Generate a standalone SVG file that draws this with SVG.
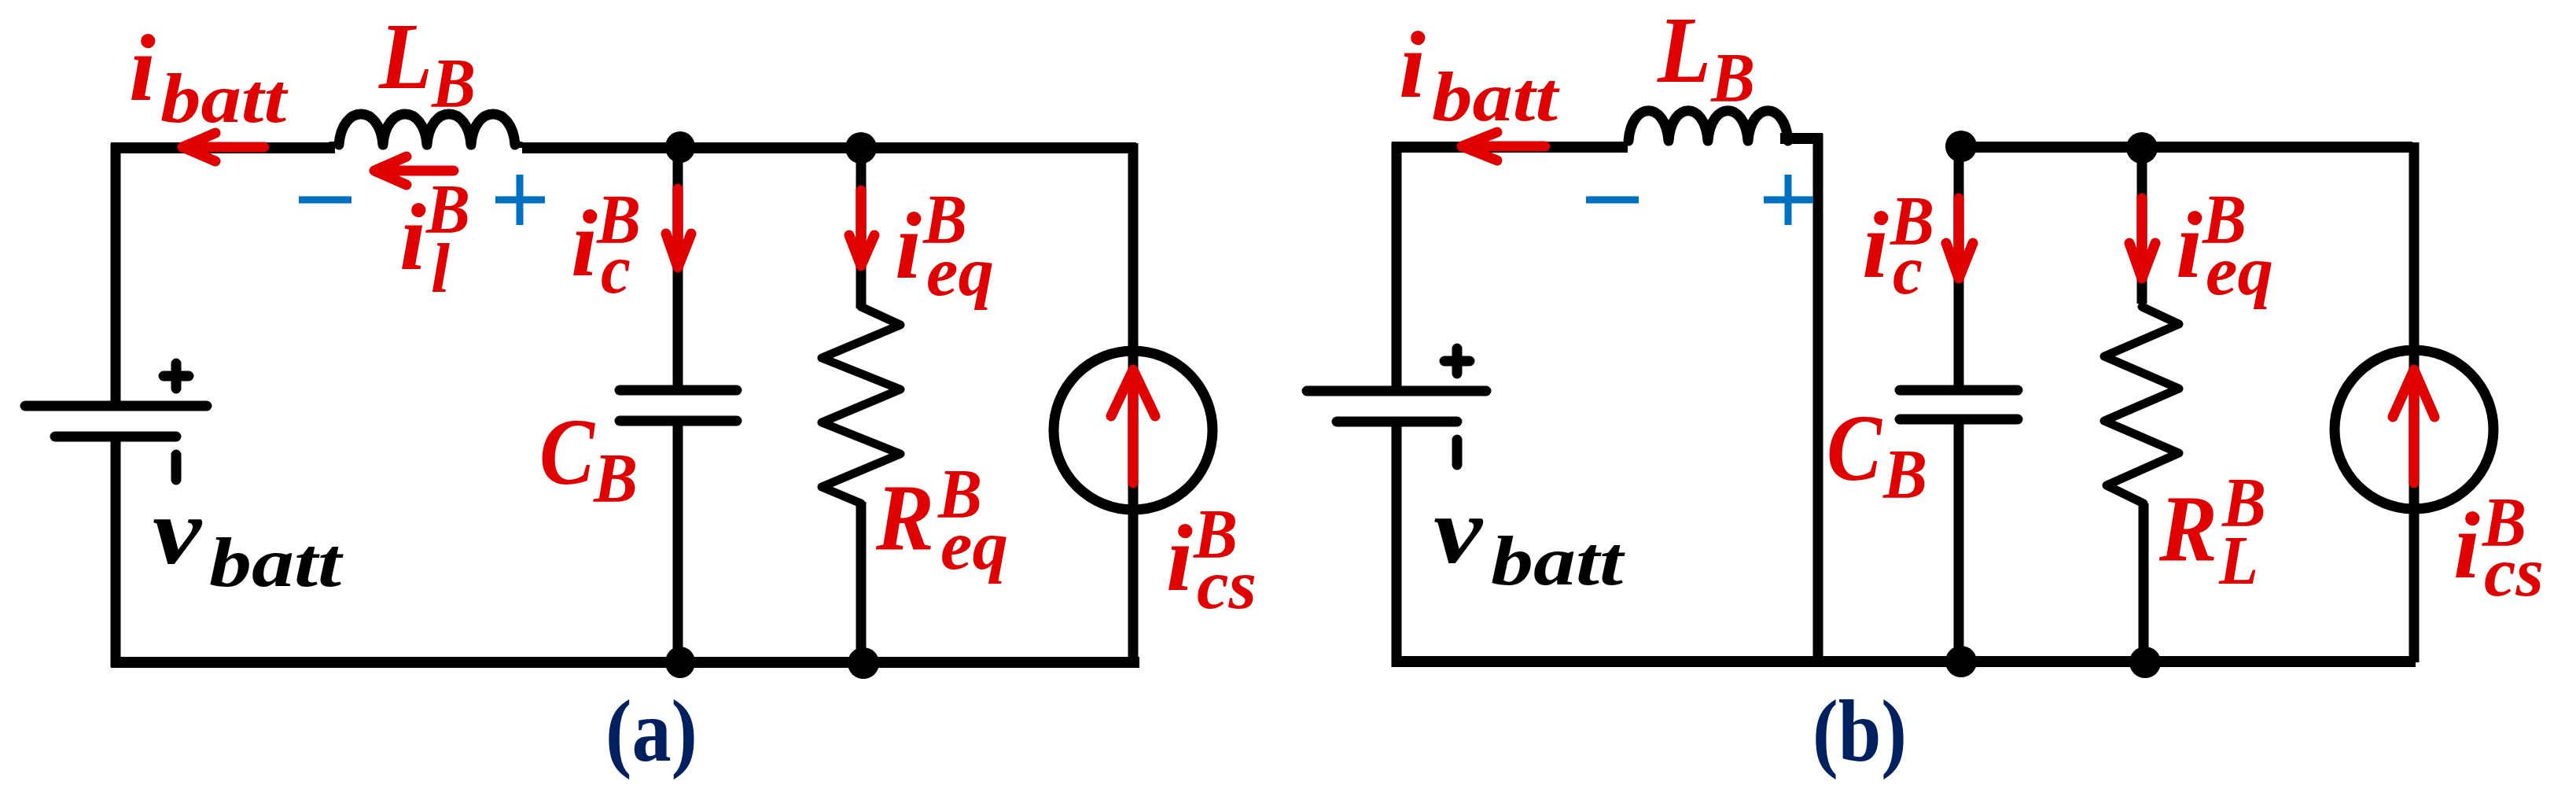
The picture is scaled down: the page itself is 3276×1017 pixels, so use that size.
<svg xmlns="http://www.w3.org/2000/svg" width="3276" height="1017" viewBox="0 0 3276 1017">
<style>
.w{fill:none;stroke:#000;stroke-width:13}
.t{stroke-width:14}
.p{fill:none;stroke:#000;stroke-width:13;stroke-linecap:round}
.l{fill:none;stroke:#000;stroke-width:13;stroke-linejoin:round;stroke-linecap:round}
.r{fill:none;stroke:#000;stroke-width:11;stroke-linejoin:round;stroke-linecap:round}
.c{fill:none;stroke:#000;stroke-width:13}
.d{fill:#000}
.a{fill:none;stroke:#e00000;stroke-width:13;stroke-linecap:round;stroke-linejoin:round}
.b{fill:none;stroke:#0070c0;stroke-width:9}
text{font-family:"Liberation Serif","DejaVu Serif",serif;font-style:italic;font-weight:700;fill:#e00000}
.m{font-size:120px}
.s{font-size:88px}
.k{fill:#000}
.n{font-size:112px;font-style:normal;fill:#002060}
</style>
<g id="connectors">
<path class="w t" d="M141 188H426M664 188H1445"/>
<path class="w" d="M147 182V516M147 555V848"/>
<path class="w t" d="M141 842H1449"/>
<path class="w" d="M862 188V496M862 535V842"/>
<path class="w" d="M1095 188V392M1095 638V843"/>
<path class="w" d="M1441 182V842"/>
<path class="w t" d="M1770 187H2070M2264 176H2318"/>
<path class="w" d="M1776 181V497"/>
<path class="w" d="M1776 536V848"/>
<path class="w" d="M2312 170V842"/>
<path class="w t" d="M1771 841H3072"/>
<path class="w t" d="M2494 187H3068"/>
<path class="w" d="M2491 187V496M2491 533V842"/>
<path class="w" d="M2724 188V386M2726 640V842"/>
<path class="w" d="M3070 181V842"/>
</g>
<g id="a-battery">
<path class="p" d="M32 516H263M70 555H224M224 578V610M224 462V494M208 478H240"/>
</g>
<g id="a-inductor">
<path class="l" d="M431 184C435 132 483 132 487 184C491 132 539 132 543 184C547 132 595 132 599 184C603 132 651 132 655 184"/>
<path class="w" d="M425 180V188M658 180V188"/>
</g>
<g id="a-capacitor"><path class="p" d="M788 496H937M788 535H937"/></g>
<g id="a-resistor"><path class="r" d="M1095 390L1145 413L1045 455L1145 495L1045 537L1145 577L1045 619L1095 640"/></g>
<g id="a-source"><circle class="c" cx="1441" cy="547" r="101"/></g>
<g id="a-junctions">
<ellipse class="d" cx="865" cy="187" rx="19" ry="20"/><ellipse class="d" cx="1095" cy="188" rx="20" ry="20"/>
<ellipse class="d" cx="865" cy="842" rx="19" ry="20"/><ellipse class="d" cx="1098" cy="843" rx="20" ry="20"/>
</g>
<g id="a-arrows">
<path class="a" d="M336 187H232M274 169L232 187L274 205"/>
<path class="a" d="M577 217H476M517 199L476 217L517 235"/>
<path class="a" d="M862 240V340M847 297L862 340L879 297"/>
<path class="a" d="M1095 242V338M1080 299L1095 338L1112 299"/>
<path class="a" d="M1441 614V470M1413 529L1441 470L1469 529"/>
</g>
<g id="a-polarity"><path class="b" d="M380 254H447M630 254H693M661 222V286"/></g>
<g id="a-labels">
<text><tspan class="m" x="164" y="127" textLength="34" lengthAdjust="spacingAndGlyphs">i</tspan><tspan class="s" x="204" y="155" textLength="160" lengthAdjust="spacingAndGlyphs">batt</tspan></text>
<text><tspan class="m" x="482" y="112" textLength="68" lengthAdjust="spacingAndGlyphs">L</tspan><tspan class="s" x="549" y="135" textLength="56" lengthAdjust="spacingAndGlyphs">B</tspan></text>
<text><tspan class="m" x="508" y="342" textLength="34" lengthAdjust="spacingAndGlyphs">i</tspan><tspan class="s" x="542" y="295" textLength="56" lengthAdjust="spacingAndGlyphs">B</tspan><tspan class="s" x="548" y="371" textLength="24" lengthAdjust="spacingAndGlyphs">l</tspan></text>
<text><tspan class="m" x="726" y="350" textLength="34" lengthAdjust="spacingAndGlyphs">i</tspan><tspan class="s" x="759" y="308" textLength="56" lengthAdjust="spacingAndGlyphs">B</tspan><tspan class="s" x="764" y="372" textLength="38" lengthAdjust="spacingAndGlyphs">c</tspan></text>
<text><tspan class="m" x="1138" y="353" textLength="34" lengthAdjust="spacingAndGlyphs">i</tspan><tspan class="s" x="1174" y="308" textLength="56" lengthAdjust="spacingAndGlyphs">B</tspan><tspan class="s" x="1178" y="375" textLength="86" lengthAdjust="spacingAndGlyphs">eq</tspan></text>
<text><tspan class="m" x="686" y="615" textLength="70" lengthAdjust="spacingAndGlyphs">C</tspan><tspan class="s" x="755" y="637" textLength="56" lengthAdjust="spacingAndGlyphs">B</tspan></text>
<text><tspan class="m" x="1114" y="699" textLength="74" lengthAdjust="spacingAndGlyphs">R</tspan><tspan class="s" x="1193" y="657" textLength="56" lengthAdjust="spacingAndGlyphs">B</tspan><tspan class="s" x="1196" y="723" textLength="86" lengthAdjust="spacingAndGlyphs">eq</tspan></text>
<text><tspan class="m" x="1483" y="750" textLength="34" lengthAdjust="spacingAndGlyphs">i</tspan><tspan class="s" x="1518" y="708" textLength="56" lengthAdjust="spacingAndGlyphs">B</tspan><tspan class="s" x="1522" y="773" textLength="76" lengthAdjust="spacingAndGlyphs">cs</tspan></text>
<text class="k"><tspan class="m" x="194" y="716" textLength="62" lengthAdjust="spacingAndGlyphs">v</tspan><tspan class="s" x="266" y="745" textLength="168" lengthAdjust="spacingAndGlyphs">batt</tspan></text>
<text class="n" x="770" y="967" textLength="117" lengthAdjust="spacingAndGlyphs">(a)</text>
</g>
<g id="b-battery"><path class="p" d="M1662 497H1890M1700 536H1853M1853 559V591M1853 443V475M1837 459H1869"/></g>
<g id="b-inductor">
<path class="l" d="M2071 179C2075 128 2118 128 2122 179C2126 128 2168 128 2172 179C2176 128 2219 128 2223 179C2227 128 2270 128 2274 179"/>
</g>
<g id="b-capacitor"><path class="p" d="M2416 496H2566M2416 533H2566"/></g>
<g id="b-resistor"><path class="r" d="M2724 390L2771 412L2676 453L2771 494L2676 535L2771 576L2679 617L2726 640"/></g>
<g id="b-source"><circle class="c" cx="3070" cy="546" r="101"/></g>
<g id="b-junctions">
<ellipse class="d" cx="2494" cy="186" rx="20" ry="20"/><ellipse class="d" cx="2724" cy="188" rx="20" ry="20"/>
<ellipse class="d" cx="2494" cy="841" rx="20" ry="20"/><ellipse class="d" cx="2728" cy="842" rx="20" ry="20"/>
</g>
<g id="b-arrows">
<path class="a" d="M1965 186H1859M1904 168L1859 186L1904 204"/>
<path class="a" d="M2491 252V354M2475 309L2491 354L2509 309"/>
<path class="a" d="M2724 252V354M2708 309L2724 354L2741 309"/>
<path class="a" d="M3070 614V470M3043 530L3070 470L3096 530"/>
</g>
<g id="b-polarity"><path class="b" d="M2017 254H2084M2243 254H2306M2274 222V286"/></g>
<g id="b-labels">
<text><tspan class="m" x="1779" y="123" textLength="34" lengthAdjust="spacingAndGlyphs">i</tspan><tspan class="s" x="1821" y="153" textLength="160" lengthAdjust="spacingAndGlyphs">batt</tspan></text>
<text><tspan class="m" x="2108" y="104" textLength="68" lengthAdjust="spacingAndGlyphs">L</tspan><tspan class="s" x="2176" y="128" textLength="56" lengthAdjust="spacingAndGlyphs">B</tspan></text>
<text><tspan class="m" x="2368" y="352" textLength="34" lengthAdjust="spacingAndGlyphs">i</tspan><tspan class="s" x="2404" y="310" textLength="56" lengthAdjust="spacingAndGlyphs">B</tspan><tspan class="s" x="2407" y="373" textLength="38" lengthAdjust="spacingAndGlyphs">c</tspan></text>
<text><tspan class="m" x="2767" y="352" textLength="34" lengthAdjust="spacingAndGlyphs">i</tspan><tspan class="s" x="2801" y="308" textLength="56" lengthAdjust="spacingAndGlyphs">B</tspan><tspan class="s" x="2805" y="374" textLength="86" lengthAdjust="spacingAndGlyphs">eq</tspan></text>
<text><tspan class="m" x="2323" y="610" textLength="70" lengthAdjust="spacingAndGlyphs">C</tspan><tspan class="s" x="2395" y="632" textLength="56" lengthAdjust="spacingAndGlyphs">B</tspan></text>
<text><tspan class="m" x="2746" y="713" textLength="74" lengthAdjust="spacingAndGlyphs">R</tspan><tspan class="s" x="2826" y="668" textLength="56" lengthAdjust="spacingAndGlyphs">B</tspan><tspan class="s" x="2822" y="742" textLength="50" lengthAdjust="spacingAndGlyphs">L</tspan></text>
<text><tspan class="m" x="3120" y="734" textLength="34" lengthAdjust="spacingAndGlyphs">i</tspan><tspan class="s" x="3157" y="693" textLength="56" lengthAdjust="spacingAndGlyphs">B</tspan><tspan class="s" x="3159" y="757" textLength="76" lengthAdjust="spacingAndGlyphs">cs</tspan></text>
<text class="k"><tspan class="m" x="1823" y="715" textLength="62" lengthAdjust="spacingAndGlyphs">v</tspan><tspan class="s" x="1896" y="743" textLength="168" lengthAdjust="spacingAndGlyphs">batt</tspan></text>
<text class="n" x="2305" y="967" textLength="120" lengthAdjust="spacingAndGlyphs">(b)</text>
</g>
</svg>
